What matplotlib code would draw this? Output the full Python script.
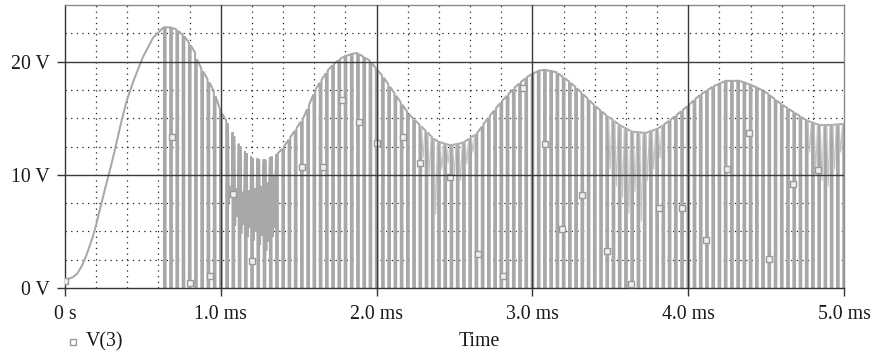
import numpy as np
import matplotlib
matplotlib.use("Agg")
import matplotlib.pyplot as plt
from matplotlib.lines import Line2D

# ---------------- data (time in ms, voltage in V) ----------------
# smooth rise before the switching starts
rise_t = [0.0, 0.02, 0.05, 0.08, 0.11, 0.14, 0.18, 0.20, 0.225, 0.267, 0.29,
          0.32, 0.36, 0.395, 0.437, 0.50, 0.565, 0.63]
rise_v = [0.5, 0.8, 0.95, 1.3, 2.0, 3.0, 4.6, 5.6, 7.0, 9.3, 10.5,
          12.2, 14.6, 16.5, 18.2, 20.4, 22.1, 23.0]

# upper envelope of the switched waveform
env_t = [0.63, 0.654, 0.705, 0.77, 0.833, 0.85, 0.90, 0.95, 1.00, 1.06, 1.09,
         1.14, 1.20, 1.28, 1.38, 1.455, 1.53, 1.61, 1.70, 1.78, 1.87, 1.955,
         2.04, 2.13, 2.21, 2.30, 2.38, 2.47, 2.55, 2.64, 2.72, 2.81, 2.90,
         2.98, 3.06, 3.15, 3.24, 3.32, 3.385, 3.47, 3.56, 3.64, 3.73, 3.81,
         3.90, 3.99, 4.07, 4.16, 4.24, 4.33, 4.41, 4.50, 4.58, 4.67, 4.76,
         4.84, 4.92, 5.00]
env_v = [23.0, 23.05, 22.95, 22.2, 20.9, 20.0, 18.8, 17.6, 15.6, 14.2, 13.3,
         12.2, 11.5, 11.3, 12.0, 13.5, 15.0, 17.6, 19.5, 20.4, 20.8, 20.1,
         18.7, 16.9, 15.3, 14.1, 13.0, 12.6, 12.8, 13.6, 15.1, 16.6, 17.9,
         18.8, 19.3, 19.1, 18.2, 17.2, 16.3, 15.3, 14.4, 13.8, 13.7, 14.1,
         15.0, 16.0, 17.0, 17.8, 18.3, 18.3, 17.9, 17.3, 16.4, 15.6, 14.8,
         14.4, 14.4, 14.5]

# switching: first pulse, period, low-time (ms)
switch_start = 0.635
switch_period = 0.04
switch_low = 0.011
switch_end = 5.0

# heavy ringing in the first trough (per cycle: low and high excursions)
ring_t = [1.05, 1.09, 1.13, 1.17, 1.21, 1.25, 1.29, 1.33]
ring_lo = [7.5, 5.5, 4.8, 4.5, 4.2, 3.8, 3.3, 4.5]
ring_hi = [9.0, 8.8, 8.5, 8.6, 8.8, 9.0, 9.3, 10.0]

# lighter ringing dips in later troughs
dip_t = [2.26, 2.30, 2.34, 2.38, 2.42, 2.46, 2.50, 2.54, 2.58,
         3.48, 3.52, 3.56, 3.60, 3.64, 3.68, 3.72, 3.76, 3.80,
         4.77, 4.81, 4.85, 4.89, 4.93, 4.97]
dip_v = [11.5, 10.0, 6.5, 10.5, 11.0, 10.0, 9.5, 11.0, 12.0,
         10.5, 9.0, 8.0, 6.6, 8.5, 5.9, 9.5, 10.5, 11.5,
         12.0, 10.4, 9.5, 9.0, 10.5, 12.0]

# trace markers (PSpice symbol squares)
mk_t = [0.0, 0.686, 0.80, 0.93, 1.08, 1.20, 1.52, 1.655, 1.775, 1.89, 2.00,
        2.17, 2.28, 2.47, 2.65, 2.81, 2.94, 3.08, 3.19, 3.32, 3.48, 3.635,
        3.81, 3.96, 4.115, 4.25, 4.39, 4.52, 4.67, 4.83]
mk_v = [0.6, 13.3, 0.45, 1.1, 8.3, 2.4, 10.7, 10.7, 16.6, 14.7, 12.8,
        13.3, 11.0, 9.8, 3.0, 1.05, 17.7, 12.7, 5.2, 8.2, 3.3, 0.35,
        7.1, 7.1, 4.25, 10.5, 13.7, 2.6, 9.2, 10.4]

x_ticks = [0, 1, 2, 3, 4, 5]
x_labels = ["0 s", "1.0 ms", "2.0 ms", "3.0 ms", "4.0 ms", "5.0 ms"]
y_ticks = [0, 10, 20]
y_labels = ["0 V", "10 V", "20 V"]

# ---------------- build the trace ----------------
def env(t):
    return float(np.interp(t, env_t, env_v))

pulses = np.arange(switch_start, switch_end, switch_period)
ring_idx = {int(np.argmin(np.abs(pulses - t))): (lo, hi)
            for t, lo, hi in zip(ring_t, ring_lo, ring_hi)}
dip_idx = {int(np.argmin(np.abs(pulses - t))): d for t, d in zip(dip_t, dip_v)}

tt = list(rise_t)
vv = list(rise_v)
dips_t, dips_v = [], []
for i, tk in enumerate(pulses):
    tt += [tk, tk, tk + switch_low, tk + switch_low]
    vv += [env(tk), 0.0, 0.0, env(tk + switch_low)]
    base = tk + switch_low
    if i in ring_idx:
        lo, hi = ring_idx[i]
        tt += [base + 0.006, base + 0.012, base + 0.018, base + 0.024, base + 0.029]
        vv += [lo, hi, lo + 0.8, hi - 0.5, env(base + 0.029)]
    elif i in dip_idx:
        dips_t += [base + 0.002, base + 0.013, base + 0.024, np.nan]
        dips_v += [env(base + 0.002), dip_idx[i], env(base + 0.024), np.nan]
tt.append(switch_end)
vv.append(env(switch_end))

# ---------------- figure ----------------
plt.rcParams['font.family'] = ['Liberation Serif', 'DejaVu Serif']
fig = plt.figure(figsize=(8.77, 3.56), dpi=100)
ax = fig.add_axes([65 / 877, 1 - 288 / 356, (844 - 65) / 877, (288 - 5) / 356])

trace_col = '#a8a8a8'
ax.plot(tt, vv, color=trace_col, lw=1.45, zorder=2, solid_joinstyle='miter')
ax.plot(dips_t, dips_v, color='#c4c4c4', lw=0.8, zorder=2.1)
ax.plot(mk_t, mk_v, ls='none', marker='s', ms=4.4, mfc='#f0f0f0',
        mec='#999999', mew=1.0, zorder=3)

ax.set_xlim(0, 5)
ax.set_ylim(0, 25)

# grid: solid majors, dotted minors
for x in np.arange(0.2, 5.0, 0.2):
    if abs(x - round(x)) > 1e-6:
        ax.axvline(x, color='#222222', lw=0.9, ls=(0, (1, 3.5)), zorder=1.5)
for y in [2.5, 5, 7.5, 12.5, 15, 17.5, 22.5]:
    ax.axhline(y, color='#222222', lw=0.9, ls=(0, (1, 3.5)), zorder=1.5)
for x in [1, 2, 3, 4]:
    ax.axvline(x, color='#3a3a3a', lw=1.0, zorder=4)
for y in [10, 20]:
    ax.axhline(y, color='#3a3a3a', lw=1.0, zorder=4)

ax.set_xticks(x_ticks)
ax.set_xticklabels(x_labels)
ax.set_yticks(y_ticks)
ax.set_yticklabels(y_labels)
ax.tick_params(axis='x', direction='out', length=6, width=1.0, color='#333333',
               pad=6, labelsize=14.3, labelcolor='#1a1a1a')
ax.tick_params(axis='y', direction='out', length=6, width=1.0, color='#333333',
               pad=5, labelsize=14.3, labelcolor='#1a1a1a')

for side in ['left', 'bottom']:
    ax.spines[side].set_color('#333333')
    ax.spines[side].set_linewidth(1.0)
for side in ['top', 'right']:
    ax.spines[side].set_color('#8a8a8a')
    ax.spines[side].set_linewidth(1.0)

fig.text(479 / 877, 1 - 342 / 356, "Time", ha='center', va='center',
         fontsize=14.3, color='#1a1a1a')
fig.add_artist(Line2D([73 / 877], [1 - 342 / 356], marker='s', ms=4.4,
                      mfc='white', mec='#999999', mew=1.0, ls='none'))
fig.text(86 / 877, 1 - 342 / 356, "V(3)", ha='left', va='center',
         fontsize=14.3, color='#1a1a1a')

fig.savefig("out.png", dpi=100)
